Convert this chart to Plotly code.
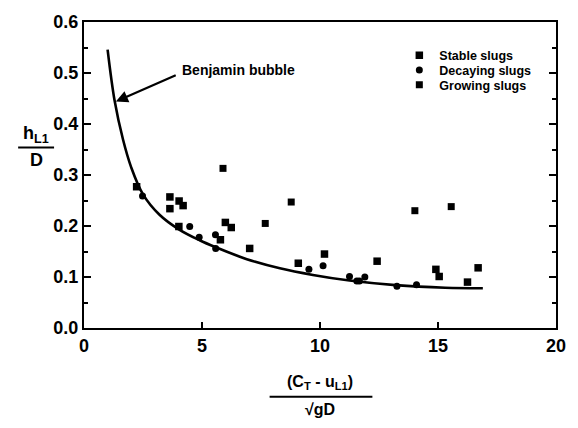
import plotly.graph_objects as go

# Benjamin bubble curve
curve_x = [1.0, 1.3, 1.65, 2.0, 2.5, 3.2, 4.0, 4.9, 5.6, 6.9, 8.3, 9.7, 11.25, 13.2, 15.3, 16.9]
curve_y = [0.546, 0.445, 0.370, 0.315, 0.262, 0.222, 0.194, 0.172, 0.158, 0.135, 0.117, 0.104, 0.093, 0.084, 0.079, 0.078]

# Measured slugs
stable_x = [2.23, 3.64, 3.64, 4.03, 4.20, 4.02, 5.78, 5.99, 6.24, 7.02, 9.08, 10.19, 12.42, 14.91, 15.05, 16.25, 16.70]
stable_y = [0.277, 0.257, 0.234, 0.249, 0.240, 0.199, 0.173, 0.207, 0.197, 0.156, 0.127, 0.145, 0.131, 0.115, 0.101, 0.090, 0.118]

decaying_x = [2.48, 4.48, 4.88, 5.57, 5.58, 9.53, 10.13, 11.25, 11.56, 11.67, 11.90, 13.26, 14.09]
decaying_y = [0.259, 0.199, 0.178, 0.183, 0.156, 0.115, 0.122, 0.101, 0.092, 0.092, 0.100, 0.082, 0.085]

growing_x = [5.89, 7.68, 8.78, 14.02, 15.56]
growing_y = [0.313, 0.205, 0.247, 0.230, 0.238]

x_ticks = [0, 5, 10, 15, 20]
y_ticks = [0.0, 0.1, 0.2, 0.3, 0.4, 0.5, 0.6]

FONT = "Liberation Sans"
W, H = 578, 428
L, R, T, B = 84, 21, 16, 100


def to_paper(px, py):
    return (px - L) / (W - L - R), (H - B - py) / (H - T - B)


fig = go.Figure()
fig.add_trace(go.Scatter(x=curve_x, y=curve_y, mode="lines",
                         line=dict(color="black", width=2.6, shape="spline", smoothing=1),
                         showlegend=False, hoverinfo="skip"))
fig.add_trace(go.Scatter(x=stable_x, y=stable_y, mode="markers", name="Stable slugs", legend="legend",
                         marker=dict(symbol="square", size=7.5, color="black")))
fig.add_trace(go.Scatter(x=decaying_x, y=decaying_y, mode="markers", name="Decaying slugs", legend="legend2",
                         marker=dict(symbol="circle", size=7, color="black")))
fig.add_trace(go.Scatter(x=growing_x, y=growing_y, mode="markers", name="Growing slugs", legend="legend3",
                         marker=dict(symbol="square", size=7, color="black")))

tick_font = dict(family=FONT, size=18, color="black", weight="bold")
axis_common = dict(showgrid=False, zeroline=False, showline=True, linecolor="black", linewidth=2,
                   ticks="inside", tickcolor="black", tickwidth=2, tickfont=tick_font)

fig.update_xaxes(range=[0, 20], tickvals=x_ticks, ticklen=6, mirror=True, **axis_common)
fig.update_yaxes(range=[0, 0.6], tickvals=y_ticks, tickformat=".1f", ticklen=7, mirror="ticks",
                 minor=dict(dtick=0.05, ticks="inside", ticklen=4, tickcolor="black", tickwidth=2),
                 **axis_common)

# Arrow pointing at the curve
fig.add_annotation(x=1.35, y=0.444, ax=3.95, ay=0.497, xref="x", yref="y", axref="x", ayref="y",
                   text="", showarrow=True, arrowhead=2, arrowsize=1.1, arrowwidth=2.2, arrowcolor="black")
fig.add_annotation(x=4.05, y=0.5065, xref="x", yref="y", text="<b>Benjamin bubble</b>", showarrow=False,
                   xanchor="left", yanchor="middle", font=dict(family=FONT, size=14, color="black"))

# Axis titles drawn as fractions: (px, py, text, size)
title_parts = [
    (36, 131, "<b>h<sub>L1</sub></b>", 18),
    (36, 157, "<b>D</b>", 18),
    (321, 384, "<b>(C<sub>T</sub> - u<sub>L1</sub>)</b>", 16),
    (321, 411, "<b>√gD</b>", 16),
]
for px, py, txt, sz in title_parts:
    ax_, ay_ = to_paper(px, py)
    fig.add_annotation(x=ax_, y=ay_, xref="paper", yref="paper", text=txt, showarrow=False,
                       xanchor="center", yanchor="middle", font=dict(family=FONT, size=sz, color="black"))

for (x0, x1, yy) in [(18, 54, 144), (270, 373, 398)]:
    px0, py0 = to_paper(x0, yy)
    px1, _ = to_paper(x1, yy)
    fig.add_shape(type="line", xref="paper", yref="paper", x0=px0, x1=px1, y0=py0, y1=py0,
                  line=dict(color="black", width=2))

# One legend box per series so the entries sit close together
legend_font = dict(family=FONT, size=12.5, color="black", weight="bold")
legends = {}
for key, top in [("legend", 35), ("legend2", 50), ("legend3", 65)]:
    lx, ly = to_paper(400, top)
    legends[key] = dict(x=lx, y=ly, xanchor="left", yanchor="top", bgcolor="rgba(0,0,0,0)",
                        font=legend_font, itemwidth=30)

fig.update_layout(
    width=W, height=H, margin=dict(l=L, r=R, t=T, b=B),
    paper_bgcolor="white", plot_bgcolor="white",
    **legends,
)

fig.write_html("out.html")
